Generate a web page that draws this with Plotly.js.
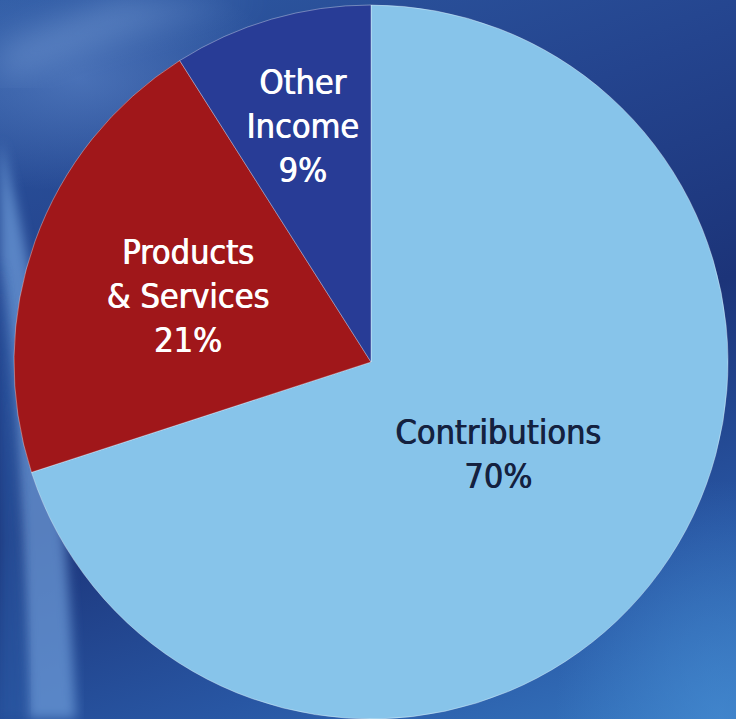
<!DOCTYPE html>
<html>
<head>
<meta charset="utf-8">
<script src="https://cdn.plot.ly/plotly-3.0.1.min.js"></script>
<style>
  html, body { margin: 0; padding: 0; width: 736px; height: 719px; overflow: hidden; }
  #wrap {
    position: relative; width: 736px; height: 719px;
    background:
      radial-gradient(ellipse 300px 160px at 80px 80px, rgba(110,150,215,0.45), rgba(110,150,215,0) 70%),
      radial-gradient(ellipse 220px 320px at 720px 720px, rgba(70,140,210,0.65), rgba(70,140,210,0) 75%),
      linear-gradient(160deg, #2e5aa3 0%, #24448e 30%, #1c3479 55%, #2856a3 80%, #3677c0 100%);
  }
  #streak { position: absolute; left: 0; top: 0; }
  #chart { position: absolute; left: 0; top: 0; width: 736px; height: 719px; }
</style>
</head>
<body>
<div id="wrap">
  <svg id="streak" width="736" height="719" xmlns="http://www.w3.org/2000/svg">
    <defs>
      <filter id="blur"><feGaussianBlur stdDeviation="6"/></filter>
      <filter id="blur2"><feGaussianBlur stdDeviation="16"/></filter>
    </defs>
    <path d="M0,140 C38,280 64,450 76,719 L28,719 C22,520 12,360 0,260 Z" fill="#6f9fdc" opacity="0.7" filter="url(#blur)"/>
    <path d="M0,260 C12,360 22,520 28,719 L0,719 Z" fill="#2c5aa5" opacity="0.6" filter="url(#blur)"/>
    <path d="M0,80 C70,50 160,20 260,0 L120,0 C80,15 30,35 0,50 Z" fill="#8fb4e6" opacity="0.35" filter="url(#blur2)"/>
  </svg>
  <div id="chart"></div>
</div>
<script>
  var labels = ["Contributions", "Products<br>& Services", "Other<br>Income"];
  var values = [70, 21, 9];
  var sliceColors = ["#87c4ea", "#a0171a", "#283c96"];
  var textColors = ["#14213f", "#ffffff", "#ffffff"];
  var textShadows = ["0.8px 0 0 #14213f", "0.8px 0 0 #ffffff", "0.8px 0 0 #ffffff"];

  var fontFam = "'DejaVu Sans Condensed', 'Liberation Sans Narrow', 'Arial Narrow', sans-serif";
  var fullDomain = { x: [14 / 736, 728 / 736], y: [0, 1 - 5 / 719] };
  var textDomain = { x: [57 / 736, 685 / 736], y: [1 - 676 / 719, 1 - 48 / 719] };

  var pie = {
    type: "pie",
    labels: labels,
    values: values,
    sort: false,
    direction: "clockwise",
    rotation: 0,
    marker: { colors: sliceColors, line: { color: "rgba(255,255,255,0.35)", width: 1 } },
    textinfo: "none",
    hoverinfo: "skip",
    showlegend: false,
    domain: fullDomain
  };

  var textPie = {
    type: "pie",
    labels: labels,
    values: values,
    sort: false,
    direction: "clockwise",
    rotation: 0,
    marker: { colors: ["rgba(0,0,0,0)", "rgba(0,0,0,0)", "rgba(0,0,0,0)"], line: { width: 0 } },
    texttemplate: "%{label}<br>%{value}%",
    textposition: "inside",
    insidetextorientation: "horizontal",
    textfont: { family: fontFam, size: 34, color: textColors, shadow: textShadows },
    hoverinfo: "skip",
    showlegend: false,
    domain: textDomain
  };

  var layout = {
    width: 736, height: 719,
    margin: { l: 0, r: 0, t: 0, b: 0 },
    paper_bgcolor: "rgba(0,0,0,0)",
    plot_bgcolor: "rgba(0,0,0,0)",
    uniformtext: { minsize: 34, mode: "show" },
    showlegend: false
  };

  Plotly.newPlot("chart", [pie, textPie], layout, { displayModeBar: false, staticPlot: true });
</script>
</body>
</html>
